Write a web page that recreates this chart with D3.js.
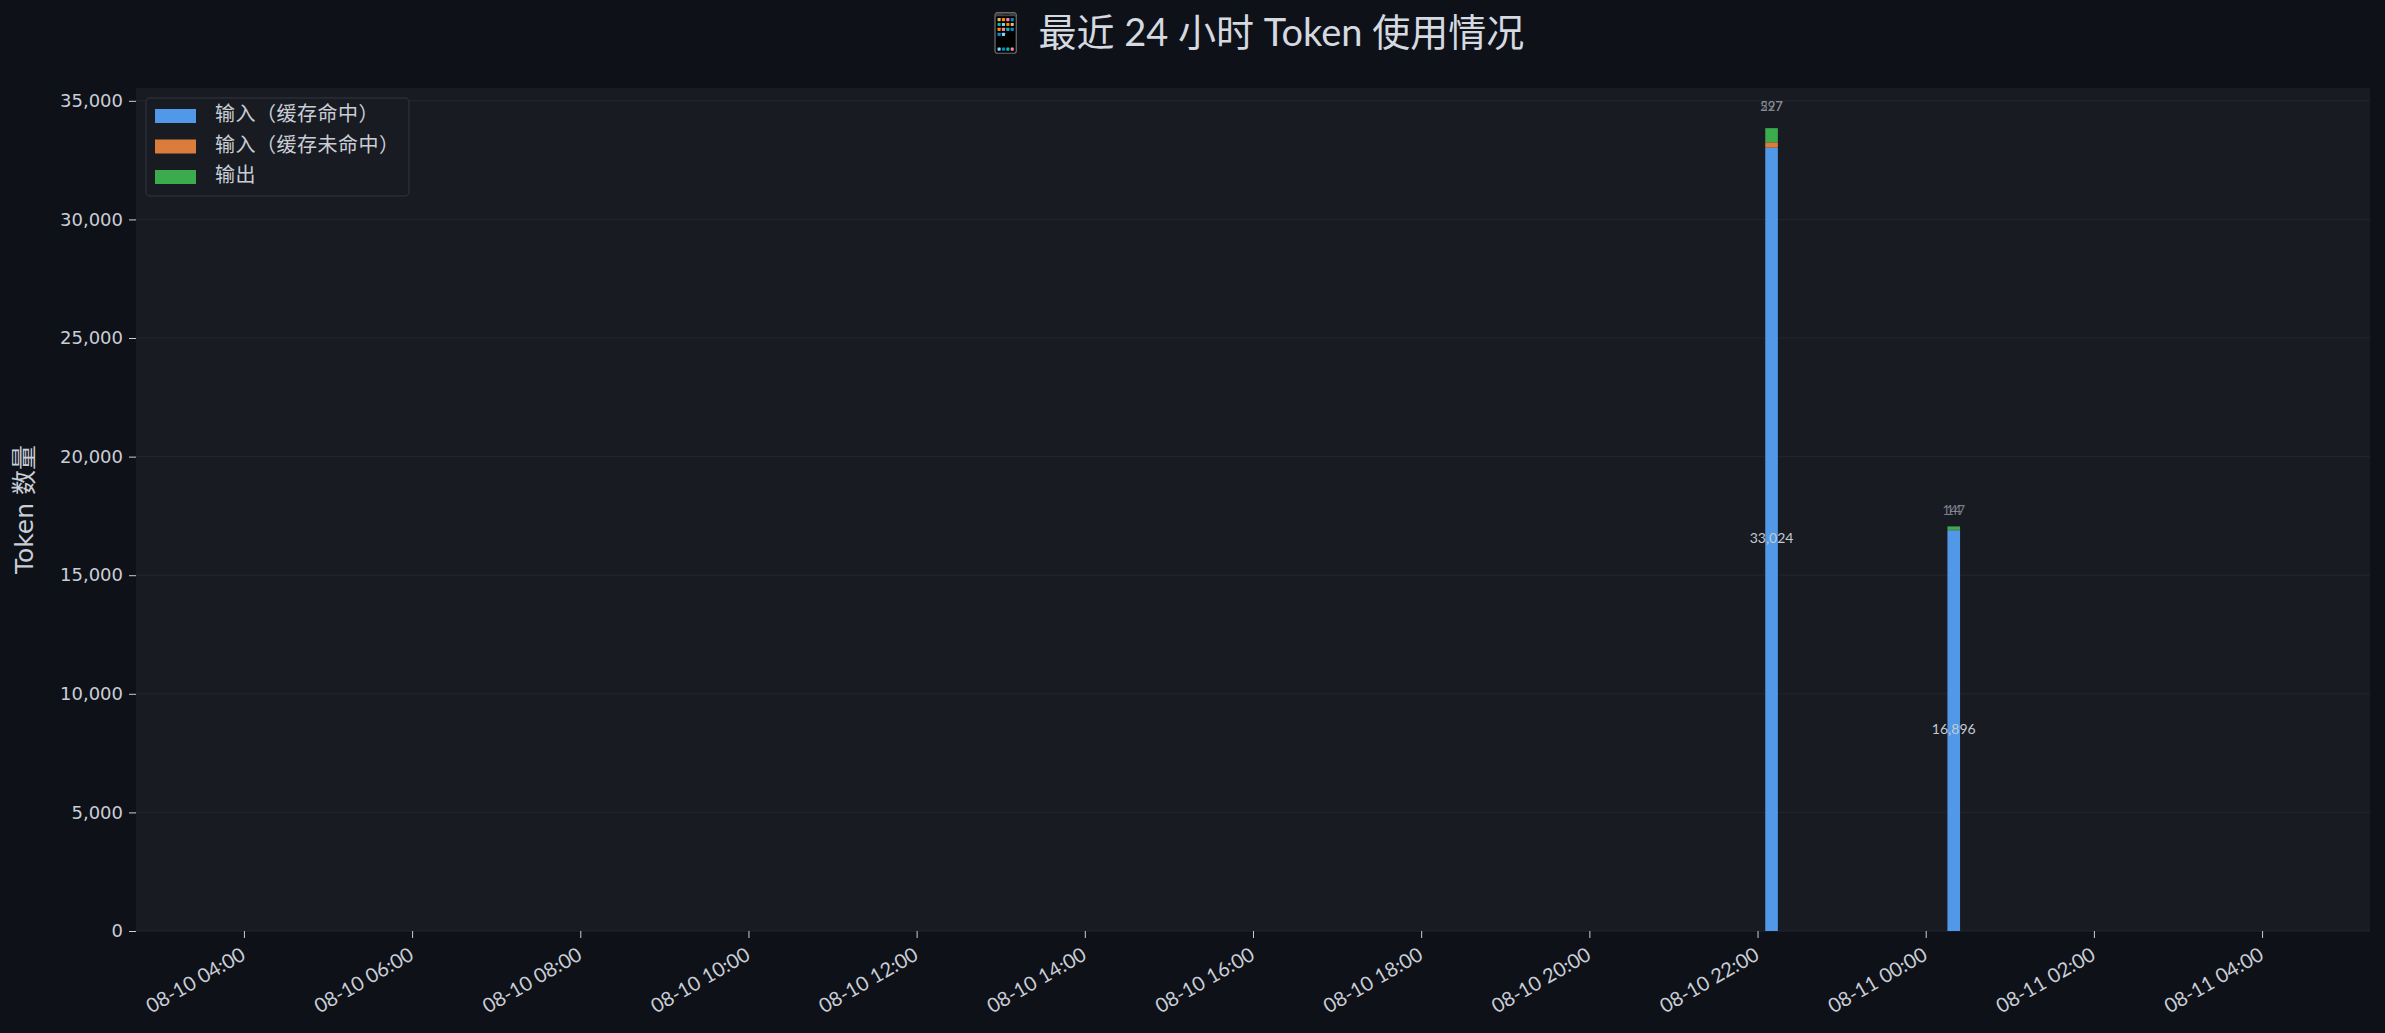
<!DOCTYPE html>
<html>
<head>
<meta charset="utf-8">
<script src="https://cdn.jsdelivr.net/npm/d3@7"></script>
<style>
  html, body { margin: 0; padding: 0; background: #0e1118; }
  svg { display: block; }
</style>
</head>
<body>
<script>
// data
const times = ["2025-08-10 22:10", "2025-08-11 00:20"];
const cacheHit = [33024, 16896];
const cacheMiss = [227, 14];
const outputTokens = [597, 147];
const seriesNames = ["输入（缓存命中）", "输入（缓存未命中）", "输出"];
const seriesColors = ["#5199e8", "#db7c3c", "#3cab4e"];
const xDomain = ["2025-08-10 02:43", "2025-08-11 05:17"];
const yTicks = [0, 5000, 10000, 15000, 20000, 25000, 30000, 35000];

const width = 2385, height = 1033;
const margin = {top: 88, right: 15, bottom: 102, left: 136};
const parse = d3.timeParse("%Y-%m-%d %H:%M");
const barMinutes = 9;

const rows = times.map((t, i) => ({
  t: parse(t), values: [cacheHit[i], cacheMiss[i], outputTokens[i]]
}));
rows.forEach(r => { r.total = d3.sum(r.values); });

const svg = d3.select("body").append("svg")
  .attr("width", width).attr("height", height);

const x = d3.scaleTime()
  .domain(xDomain.map(parse))
  .range([margin.left, width - margin.right]);
const y = d3.scaleLinear()
  .domain([0, d3.max(rows, r => r.total) * 1.05])
  .range([height - margin.bottom, margin.top]);

const tickFont = "Lato, 'Noto Sans CJK SC', sans-serif";
const textColor = "#c9ced6";

// plot background
svg.append("rect")
  .attr("x", margin.left).attr("y", margin.top)
  .attr("width", width - margin.left - margin.right)
  .attr("height", height - margin.top - margin.bottom)
  .attr("fill", "#181b22");

// grid
svg.append("g").selectAll("line").data(yTicks).join("line")
  .attr("x1", margin.left).attr("x2", width - margin.right)
  .attr("y1", d => y(d)).attr("y2", d => y(d))
  .attr("stroke", "#23262e").attr("stroke-width", 1);

// title
svg.append("text")
  .attr("x", (margin.left + width - margin.right) / 2).attr("y", 46)
  .attr("text-anchor", "middle")
  .attr("font-family", tickFont).attr("font-size", 38)
  .attr("fill", "#d5d9e0")
  .text("📱 最近 24 小时 Token 使用情况");

// y axis
const yAxis = svg.append("g")
  .attr("transform", `translate(${margin.left},0)`)
  .call(d3.axisLeft(y).tickValues(yTicks).tickFormat(d3.format(",")).tickSize(7).tickPadding(6));
yAxis.select(".domain").remove();
yAxis.selectAll(".tick line").attr("stroke", textColor);
yAxis.selectAll(".tick text")
  .attr("fill", textColor)
  .attr("font-family", "'DejaVu Sans', sans-serif")
  .attr("font-size", 18);

svg.append("text")
  .attr("transform", `translate(33,${(margin.top + height - margin.bottom) / 2}) rotate(-90)`)
  .attr("text-anchor", "middle")
  .attr("font-family", "'DejaVu Sans', 'Noto Sans CJK SC', sans-serif")
  .attr("font-size", 25)
  .attr("fill", textColor)
  .text("Token 数量");

// x axis
const xAxis = svg.append("g")
  .attr("transform", `translate(0,${height - margin.bottom})`)
  .call(d3.axisBottom(x).ticks(d3.timeHour.every(2)).tickFormat(d3.timeFormat("%m-%d %H:%M")).tickSize(7).tickPadding(4));
xAxis.select(".domain").remove();
xAxis.selectAll(".tick line").attr("stroke", textColor);
xAxis.selectAll(".tick text")
  .attr("fill", textColor)
  .attr("font-family", tickFont)
  .attr("font-size", 20)
  .attr("text-anchor", "end")
  .attr("dy", "0.7em")
  .attr("transform", "translate(-10,6) rotate(-30)");

// stacked bars
const stack = d3.stack().keys([0, 1, 2]).value((r, k) => r.values[k]);
const layers = stack(rows);
const half = barMinutes / 2;
svg.append("g").selectAll("g").data(layers).join("g")
  .attr("fill", (d, i) => seriesColors[i])
  .selectAll("rect").data(d => d).join("rect")
  .attr("x", d => x(d3.timeSecond.offset(d.data.t, -half * 60)))
  .attr("width", d => x(d3.timeSecond.offset(d.data.t, half * 60)) - x(d3.timeSecond.offset(d.data.t, -half * 60)))
  .attr("y", d => y(d[1]))
  .attr("height", d => y(d[0]) - y(d[1]));

// value labels
const labels = svg.append("g").attr("font-family", tickFont);
labels.selectAll("text.hit").data(rows).join("text")
  .attr("x", d => x(d.t)).attr("y", d => y(d.values[0] / 2))
  .attr("text-anchor", "middle").attr("dominant-baseline", "middle")
  .attr("font-size", 14).attr("fill", "#c4c9d1")
  .text(d => d3.format(",")(d.values[0]));
[1, 2].forEach(k => {
  labels.selectAll(`text.s${k}`).data(rows).join("text")
    .attr("x", d => x(d.t)).attr("y", d => y(d.total * 1.015 + 350))
    .attr("text-anchor", "middle").attr("dominant-baseline", "middle")
    .attr("font-size", 13).attr("fill", "#8b919b").attr("opacity", 0.85)
    .text(d => d3.format(",")(d.values[k]));
});

// legend
const lg = svg.append("g").attr("transform", `translate(${margin.left + 10},${margin.top + 10})`);
lg.append("rect")
  .attr("width", 263).attr("height", 98).attr("rx", 4)
  .attr("fill", "#181b22").attr("stroke", "#2a2e36").attr("stroke-width", 1.5);
const items = lg.selectAll("g").data(seriesNames).join("g")
  .attr("transform", (d, i) => `translate(9,${11 + i * 30.5})`);
items.append("rect")
  .attr("width", 41).attr("height", 14)
  .attr("fill", (d, i) => seriesColors[i]);
items.append("text")
  .attr("x", 60).attr("y", 7).attr("dominant-baseline", "middle")
  .attr("font-family", "'Noto Sans CJK SC', 'DejaVu Sans', sans-serif")
  .attr("font-size", 20).attr("letter-spacing", 0.5).attr("fill", textColor)
  .text(d => d);
</script>
</body>
</html>
